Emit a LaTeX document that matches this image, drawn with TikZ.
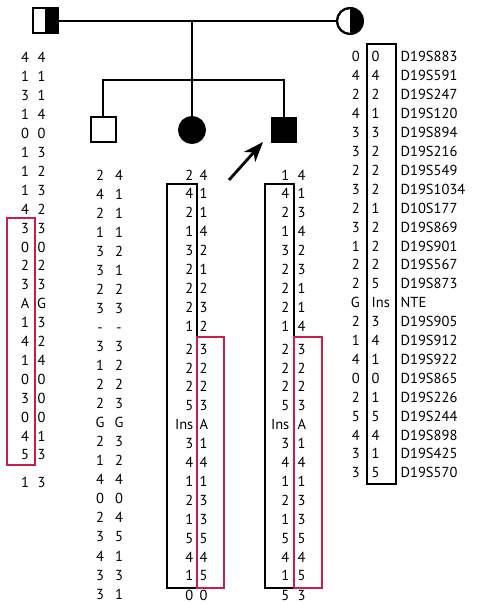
\documentclass[tikz,border=0pt]{standalone}
\usepackage{fontspec}
\setmainfont{PT Sans}
\usetikzlibrary{arrows.meta}
\definecolor{boxred}{RGB}{200,30,75}
\begin{document}
\begin{tikzpicture}[x=1pt,y=-1pt,
  al/.style={inner sep=0pt, text height=10pt, text depth=0pt, font=\fontsize{14.5}{15}\selectfont},
  ped/.style={line width=2pt},
  hbox/.style={line width=1.8pt},
  rbox/.style={line width=1.8pt, draw=boxred},
  male/.style={draw, line width=2pt, minimum size=25pt, inner sep=0pt},
  female/.style={draw, circle, line width=2pt, minimum size=26pt, inner sep=0pt}]
\useasboundingbox (0,0) rectangle (480,604);
\fill[white] (0,0) rectangle (480,604);

% ---------- pedigree ----------
\node[male] (fa) at (45,21) {};
\fill (fa.north) rectangle (fa.south east);
\node[male] (fa2) at (45,21) {};
\node[female] (mo) at (350,21) {};
\fill (mo.north) arc[start angle=90, end angle=-90, radius=13pt] -- cycle;
\node[female] (mo2) at (350,21) {};
\node[male] (s1) at (103,130) {};
\node[female, fill=black] (da) at (192,130) {};
\node[male, fill=black, minimum size=24pt] (s2) at (284,130) {};
\draw[ped] (fa.east) -- (mo.west);
\coordinate (mid) at (192,21);
\coordinate (sib) at (192,80);
\draw[ped] (mid) -- (da.north);
\draw[ped] (s1.north) |- (sib) -| (s2.north);
\coordinate (atail) at (229,180);
\coordinate (atip) at (263,142);
\draw[line width=2.8pt, -{Stealth[length=20pt, width=15pt, inset=6pt]}] (atail) -- (atip);

% ---------- father ----------
\foreach \a/\b [count=\r from 0] in {4/4,1/1,3/1,1/4,0/0,1/3,1/2,1/3,4/2,3/3,0/0,2/2,3/3,A/G,1/3,4/2,1/4,0/0,3/0,0/0,4/1,5/3,1/3}{
  \pgfmathsetmacro\yy{\r<22 ? 58+18.9*\r : 482}
  \node[al] (Fa\r) at (25,\yy) {\a};
  \node[al] (Fb\r) at (41.5,\yy) {\b};
}
\draw[rbox] (7,218) rectangle (35,465);

% ---------- mother + markers ----------
\foreach \a/\b/\m [count=\r from 0] in {0/0/D19S883,4/4/D19S591,2/2/D19S247,4/1/D19S120,3/3/D19S894,3/2/D19S216,2/2/D19S549,3/2/D19S1034,2/1/D10S177,3/2/D19S869,1/2/D19S901,2/2/D19S567,2/5/D19S873,G/Ins/NTE,2/3/D19S905,1/4/D19S912,4/1/D19S922,0/0/D19S865,2/1/D19S226,5/5/D19S244,4/4/D19S898,3/1/D19S425,3/5/D19S570}{
  \pgfmathsetmacro\yy{57+18.9*\r}
  \node[al, anchor=east] (Ma\r) at (360,\yy) {\a};
  \node[al, anchor=west] (Mb\r) at (371.5,\yy) {\b};
  \node[al, anchor=west] (Mk\r) at (400.5,\yy) {\m};
}
\draw[hbox] (367,44) rectangle (396,484);

% ---------- son 1 ----------
\foreach \a/\b [count=\r from 0] in {2/4,4/1,2/1,1/1,3/2,3/1,2/2,3/3,-/-,3/3,1/2,2/2,2/3,G/G,2/3,1/2,4/4,0/0,2/4,3/5,4/1,3/3,3/1}{
  \pgfmathsetmacro\yy{175+19.05*\r}
  \node[al] (Sa\r) at (100,\yy) {\a};
  \node[al] (Sb\r) at (119,\yy) {\b};
}

% ---------- daughter ----------
\foreach \a/\b [count=\r from 0] in {2/4,4/1,2/1,1/4,3/2,2/1,2/2,2/3,1/2,2/3,2/2,2/2,5/3,Ins/A,3/1,4/4,1/1,2/3,1/3,5/5,4/4,1/5,0/0}{
  \pgfmathsetmacro\yy{\r<22 ? 175+18.9*\r+(\r>8 ? 4 : 0) : 595}
  \node[al, anchor=east] (Da\r) at (193.5,\yy) {\a};
  \node[al, anchor=west] (Db\r) at (199.5,\yy) {\b};
}
\draw[hbox] (167,184) rectangle (197,588);
\draw[rbox] (197,337) rectangle (224,588);

% ---------- son 2 ----------
\foreach \a/\b [count=\r from 0] in {1/4,4/1,2/3,1/4,3/2,2/3,2/1,2/1,1/4,2/3,2/2,2/2,5/3,Ins/A,3/1,4/4,1/1,2/3,1/3,5/5,4/4,1/5,5/3}{
  \pgfmathsetmacro\yy{\r<22 ? 175+18.9*\r+(\r>8 ? 4 : 0) : 595}
  \node[al, anchor=east] (Pa\r) at (289.5,\yy) {\a};
  \node[al, anchor=west] (Pb\r) at (297.5,\yy) {\b};
}
\draw[hbox] (265,184) rectangle (294,588);
\draw[rbox] (294,337) rectangle (322,588);
\end{tikzpicture}
\end{document}
